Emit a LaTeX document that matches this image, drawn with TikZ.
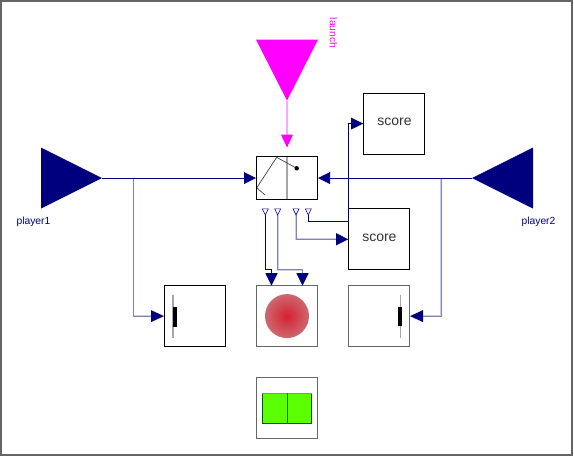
\documentclass[tikz,border=0pt]{standalone}
\usepackage{fontspec}
\setmainfont{Liberation Sans}
\definecolor{navy}{RGB}{0,0,127}
\definecolor{wirepale}{RGB}{205,205,228}
\definecolor{mag}{RGB}{255,0,255}
\definecolor{fieldgreen}{RGB}{92,255,0}
\definecolor{framegray}{RGB}{100,100,100}
\definecolor{ballin}{RGB}{216,32,48}
\definecolor{ballout}{RGB}{204,104,112}
\tikzset{
  blockbox/.style={draw=black,line width=1pt,fill=white,minimum width=61pt,minimum height=61pt,inner sep=0pt,outer sep=0pt},
  softbox/.style={blockbox,draw=black!60},
  wire/.style={draw=navy,line width=1pt},
  softwire/.style={draw=navy!50!white,line width=0.8pt,preaction={draw=wirepale,line width=1.8pt}},
  head/.style={fill=navy,draw=none},
  port/.style={draw=navy,fill=white,line width=0.6pt},
  bigtri/.style={fill=navy,draw=none},
  pad/.style={draw=black!35,line width=1.3pt},
  scoretxt/.style={text=black!80,font=\fontsize{14}{16}\selectfont,inner sep=0pt},
  lab/.style={text=navy,font=\fontsize{10.3}{12}\selectfont,inner sep=0pt},
}
\begin{document}
\begin{tikzpicture}[x=1pt,y=-1pt]
\useasboundingbox (0,0) rectangle (574,457);
\fill[white] (0,0) rectangle (574,457);
\draw[framegray,line width=1.3pt] (1,1) rectangle (572,455);
\begin{scope}[yshift=-0.6pt]
% blocks
\node[blockbox] (ctrl) at (287,177.5) [minimum height=43pt] {};
\node[blockbox] (score1) at (393.8,123) {};
\node[scoretxt] at (394.5,121.5) {score};
\node[blockbox] (score2) at (379.4,238.6) {};
\node[scoretxt] at (379.4,237.5) {score};
\node[blockbox] (padL) at (195,315.8) {};
\node[softbox] (ball) at (287,315.5) {};
\node[softbox] (padR) at (379.2,315.5) {};
\node[softbox] (field) at (287,407.5) {};

% triangles
\node[inner sep=0pt] (p1) at (102,177.5) {};
\node[inner sep=0pt] (p2) at (472,177.5) {};
\node[inner sep=0pt] (ln) at (287,100) {};
\fill[bigtri] (41,147) -- (41,208) -- (p1.center) -- cycle;
\fill[bigtri] (533,147) -- (533,208) -- (p2.center) -- cycle;
\fill[mag] (256,39) -- (318,39) -- (ln.center) -- cycle;
\node[lab] at (33.5,221.5) {player1};
\node[lab] at (538.5,221.5) {player2};
\node[lab,text=mag,rotate=-90] at (333.5,32.5) {launch};

% controller icon
\draw[black!35,line width=1.3pt] (ctrl.north) -- (ctrl.south);
\coordinate (swa) at (256.7,187.3);
\coordinate (swb) at (276.7,156.7);
\coordinate (swc) at (296.7,167.7);
\coordinate (swd) at (265,194.3);
\draw[black!75,line width=0.7pt] (swd) -- (swa) -- (swb) -- (swc);
\fill[black] (swc) circle (2.2pt);
\draw[black,line width=1pt] (ctrl.south west) rectangle (ctrl.north east);

% launch wire
\coordinate (lnb) at (287,134);
\draw[draw=mag!35,line width=1.4pt] (ln.center) -- (lnb);
\fill[mag] (281,134) -- (293,134) -- (287,147) -- cycle;

% wires from players
\coordinate (c1) at (244,177.5);
\coordinate (c2) at (330,177.5);
\coordinate (j1) at (133.5,177.5);
\coordinate (j2) at (441,177.5);
\coordinate (a1) at (151,315.5);
\coordinate (a2) at (423,315.5);
\draw[softwire] (j1) |- (a1);
\draw[softwire] (j2) |- (a2);
\draw[wire] (p1.center) -- (c1);
\draw[wire] (p2.center) -- (c2);
\fill[head] (244,171.5) -- (244,183.5) -- (256,177.5) -- cycle;
\fill[head] (330,171.5) -- (330,183.5) -- (318,177.5) -- cycle;
\fill[head] (151,309.5) -- (151,321.5) -- (164,315.5) -- cycle;
\fill[head] (423,309.5) -- (423,321.5) -- (410,315.5) -- cycle;

% ports
\coordinate (s1) at (265.3,214);
\coordinate (s2) at (277.7,214);
\coordinate (s3) at (296,214);
\coordinate (s4) at (308.3,214);
\draw[wire] (s1) -- (265.3,269.3) -- (271.5,269.3) -- (271.5,272.5);
\draw[softwire] (s2) -- (277.7,269.3) -- (302.5,269.3) -- (302.5,272.5);
\draw[softwire] (s3) -- (296,238.7) -- (336,238.7);
\draw[wire] (s4) -- (308.3,220.5) -- (348.3,220.5) -- (348.3,123) -- (351,123);
\foreach \px in {265.3,277.7,296,308.3}
  \draw[port] (\px-3,208.3) -- (\px+3,208.3) -- (\px,214.3) -- cycle;
\fill[head] (265.3,272.5) -- (277.7,272.5) -- (271.5,285) -- cycle;
\fill[head] (296.3,272.5) -- (308.7,272.5) -- (302.5,285) -- cycle;
\fill[head] (336,232.5) -- (336,244.9) -- (348.3,238.7) -- cycle;
\fill[head] (351,117) -- (351,129) -- (363.3,123) -- cycle;

% paddles
\draw[pad] (173,294) -- (173,337);
\fill[black] (173,306) rectangle (177,326);
\draw[pad] (400.7,294) -- (400.7,337);
\fill[black] (397.7,306) rectangle (401.5,325.5);

% ball
\shade[inner color=ballin,outer color=ballout] (ball.center) circle (22pt);

% field
\fill[fieldgreen] (262.3,392.7) rectangle (311.7,423.3);
\draw[black!50!green!70!black,line width=0.8pt] (262.3,392.7) rectangle (311.7,423.3);
\draw[black!45,line width=0.8pt] (262.3,392.7) -- (311.7,392.7);
\draw[black!35!green!75!black,line width=1pt] (287,392.7) -- (287,423.3);
\end{scope}
\end{tikzpicture}
\end{document}
